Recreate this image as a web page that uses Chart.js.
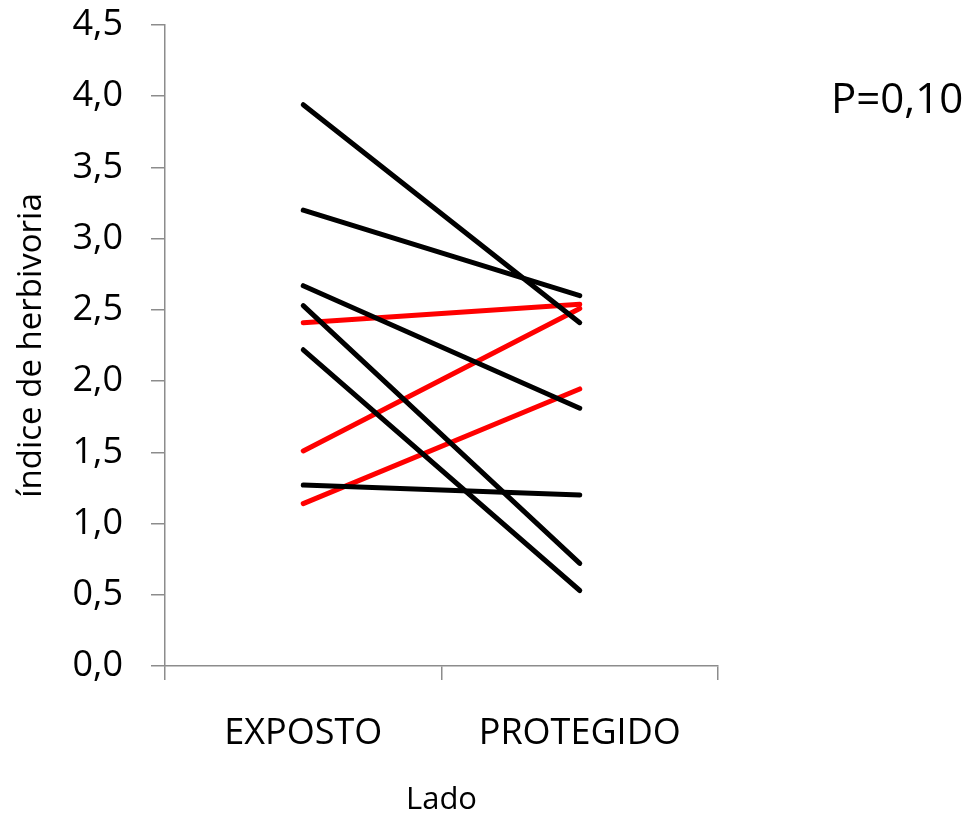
<!DOCTYPE html>
<html>
<head>
<meta charset="utf-8">
<script src="https://cdn.jsdelivr.net/npm/chart.js@4"></script>
<style>
  html, body { margin: 0; padding: 0; background: #fff; }
  #wrap { width: 971px; height: 819px; }
</style>
</head>
<body>
<div id="wrap"><canvas id="chart" width="971" height="819"></canvas></div>
<script>
const categories = ["EXPOSTO", "PROTEGIDO"];

// pares pretos (exposto -> protegido)
const pretoExposto = [3.94, 3.20, 2.67, 2.53, 2.22, 1.27];
const pretoProtegido = [2.41, 2.60, 1.81, 0.72, 0.53, 1.20];

// pares vermelhos
const vermelhoExposto = [2.41, 1.51, 1.14];
const vermelhoProtegido = [2.54, 2.51, 1.945];

const yTicks = [0, 0.5, 1, 1.5, 2, 2.5, 3, 3.5, 4, 4.5];
const pLabel = "P=0,10";

const font = "'Open Sans', 'Noto Sans', sans-serif";
const axisGray = "#8c8c8c";

function pairs(a, b, color) {
  return a.map((v, i) => ({
    data: [v, b[i]],
    borderColor: color,
    borderWidth: 5,
    borderCapStyle: "round",
    pointRadius: 0,
    fill: false,
    tension: 0,
  }));
}

const pText = {
  id: "pText",
  afterDraw(chart) {
    const ctx = chart.ctx;
    ctx.save();
    ctx.font = "42px " + font;
    ctx.fillStyle = "#000";
    ctx.textAlign = "left";
    ctx.textBaseline = "middle";
    ctx.fillText(pLabel, 831, 101);
    ctx.restore();
  },
};

new Chart(document.querySelector("#chart"), {
  type: "line",
  data: {
    labels: categories,
    datasets: [
      ...pairs(pretoExposto, pretoProtegido, "#000000"),
      ...pairs(vermelhoExposto, vermelhoProtegido, "#ff0000"),
    ],
  },
  options: {
    responsive: false,
    animation: false,
    layout: { padding: { left: 8, right: 253, top: 25, bottom: 0 } },
    plugins: { legend: { display: false }, tooltip: { enabled: false } },
    scales: {
      x: {
        offset: true,
        grid: {
          offset: true,
          drawOnChartArea: false,
          drawTicks: true,
          tickLength: 14,
          color: axisGray,
          lineWidth: 1.5,
        },
        border: { color: axisGray, width: 1.5 },
        ticks: {
          color: "#000",
          font: { family: font, size: 36 },
          padding: 32,
          maxRotation: 0,
        },
        title: {
          display: true,
          text: "Lado",
          color: "#000",
          font: { family: font, size: 31 },
          padding: { top: 4, bottom: 0 },
        },
        afterFit(scale) { scale.height = 153; },
      },
      y: {
        min: 0,
        max: 4.5,
        afterBuildTicks(scale) { scale.ticks = yTicks.map(v => ({ value: v })); },
        grid: {
          drawOnChartArea: false,
          drawTicks: true,
          tickLength: 14,
          color: axisGray,
          lineWidth: 1.5,
        },
        border: { color: axisGray, width: 1.5 },
        ticks: {
          color: "#000",
          font: { family: font, size: 36 },
          padding: 28,
          callback: v => v.toFixed(1).replace(".", ","),
        },
        title: {
          display: true,
          text: "índice de herbivoria",
          color: "#000",
          font: { family: font, size: 33 },
          padding: { top: 4, bottom: 4 },
        },
        afterFit(scale) {
          scale.width = 157;
          scale.paddingTop = 0;
          scale.paddingBottom = 0;
        },
      },
    },
  },
  plugins: [pText],
});
</script>
</body>
</html>
